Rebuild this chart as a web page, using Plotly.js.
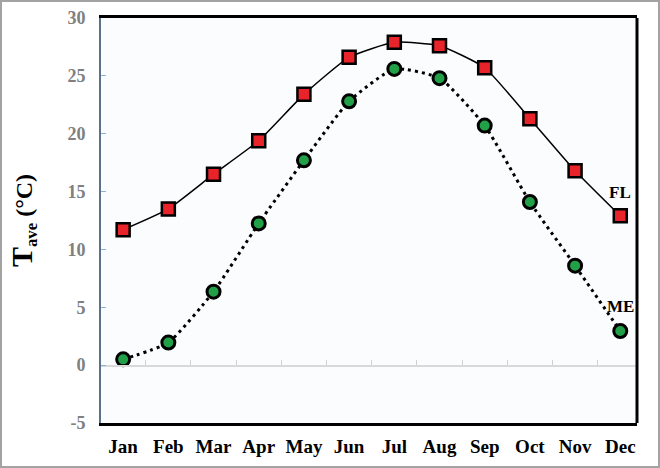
<!DOCTYPE html>
<html>
<head>
<meta charset="utf-8">
<script src="https://cdn.plot.ly/plotly-3.0.1.min.js"></script>
<style>
  html, body { margin: 0; padding: 0; background: #fff; }
  #wrap { position: relative; width: 660px; height: 468px; }
  #chart { width: 660px; height: 468px; }
  #frame { position: absolute; left: 0; top: 0; width: 660px; height: 468px; box-sizing: border-box; border: 2px solid #a3a3a3; pointer-events: none; }
</style>
</head>
<body>
<div id="wrap"><div id="chart"></div><div id="frame"></div></div>
<script>
const months = ["Jan","Feb","Mar","Apr","May","Jun","Jul","Aug","Sep","Oct","Nov","Dec"];
const flTemps = [11.7, 13.5, 16.5, 19.4, 23.4, 26.6, 27.9, 27.6, 25.7, 21.3, 16.8, 12.9];
const meTemps = [0.5, 1.95, 6.35, 12.25, 17.7, 22.8, 25.6, 24.8, 20.7, 14.1, 8.6, 2.95];
const yTicks = [-5, 0, 5, 10, 15, 20, 25, 30];
const yTickText = ["-5", "0", "5", "10", "15", "20", "25", "30"];
const seriesLabels = ["FL", "ME"];
const labelY = [14.9, 5.1];

const serif = '"Liberation Serif", "Times New Roman", serif';

const traces = [
  {
    x: months, y: flTemps, type: 'scatter', mode: 'lines+markers', name: 'FL',
    line: { color: '#000', width: 1.5, shape: 'spline', smoothing: 0.5 },
    marker: { symbol: 'square', size: 13, color: '#e8232a', line: { color: '#000', width: 2.5 } },
    cliponaxis: false
  },
  {
    x: months, y: meTemps, type: 'scatter', mode: 'lines+markers', name: 'ME',
    line: { color: '#000', width: 3, dash: '3px,4px', shape: 'spline', smoothing: 0.5 },
    marker: { symbol: 'circle', size: 13, color: '#22a048', line: { color: '#000', width: 3 } },
    cliponaxis: false
  },
  {
    x: months, y: meTemps, xaxis: 'x2', type: 'scatter', mode: 'none',
    hoverinfo: 'skip', showlegend: false
  }
];

const layout = {
  width: 660, height: 468,
  margin: { l: 101, r: 23, t: 18, b: 45 },
  paper_bgcolor: '#ffffff',
  plot_bgcolor: '#fbfcfd',
  showlegend: false,
  xaxis: {
    type: 'category', categoryarray: months, range: [-0.49, 11.37],
    showline: true, linecolor: '#000', linewidth: 3, mirror: true,
    ticks: '', showgrid: false, zeroline: false,
    tickfont: { family: serif, size: 19, color: '#000', weight: 'bold' },
    ticklabelstandoff: 4
  },
  xaxis2: {
    type: 'category', categoryarray: months, range: [-0.49, 11.37],
    overlaying: 'x', anchor: 'free', position: 5 / 35, side: 'top',
    showline: true, linecolor: '#d9d9d9', linewidth: 1.5,
    ticks: 'outside', tickson: 'boundaries', ticklen: 5, tickcolor: '#d0d0d0', tickwidth: 1,
    showticklabels: false, showgrid: false, zeroline: false
  },
  yaxis: {
    range: [-5, 30], tickvals: yTicks, ticktext: yTickText,
    showline: true, linecolor: '#5b708a', linewidth: 2,
    ticks: 'inside', ticklen: 5, tickcolor: '#8fb0d0', tickwidth: 1,
    showgrid: false, zeroline: false,
    tickfont: { family: serif, size: 18, color: '#808080', weight: 'bold' },
    ticklabelstandoff: 10,
    title: {
      text: '<span style="font-size:30px">T</span><sub>ave</sub> (°C)', standoff: 28,
      font: { family: serif, size: 24, color: '#000', weight: 'bold' }
    }
  },
  shapes: [
    { type: 'line', xref: 'paper', yref: 'paper', x0: 1, x1: 1, y0: 0, y1: 1,
      line: { color: '#000', width: 3 } }
  ],
  annotations: seriesLabels.map((t, i) => ({
    x: 'Dec', y: labelY[i], xref: 'x', yref: 'y', text: t, showarrow: false,
    font: { family: serif, size: 17, color: '#000', weight: 'bold' }
  }))
};

Plotly.newPlot('chart', traces, layout, { displayModeBar: false, staticPlot: true });
</script>
</body>
</html>
